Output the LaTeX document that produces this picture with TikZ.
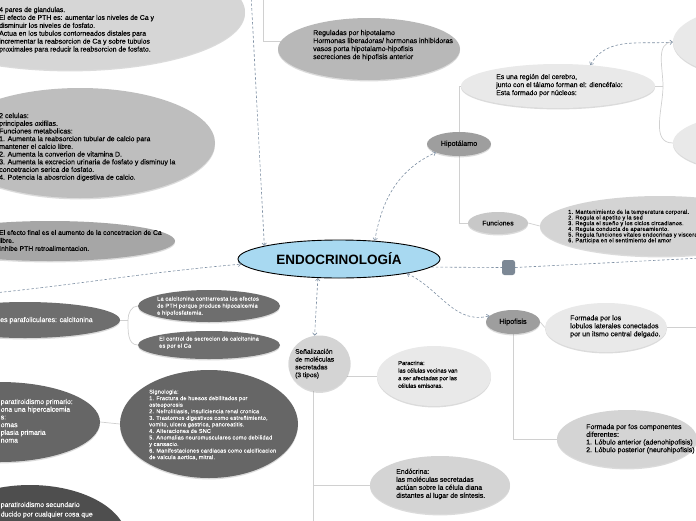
\documentclass[tikz,border=0pt]{standalone}
\usepackage{fontspec}
\setmainfont{Liberation Sans}[UprightFeatures={FakeBold=0.3}]
\newfontfamily\tightfont{Liberation Sans}[LetterSpace=4, UprightFeatures={FakeBold=0.2}]
\usetikzlibrary{arrows.meta, positioning, shapes.geometric, shadows, backgrounds}
\definecolor{relblue}{RGB}{126,144,164}
\definecolor{branchgray}{RGB}{208,208,208}
\definecolor{skyfill}{RGB}{168,217,241}
\definecolor{slate}{RGB}{124,136,149}
\definecolor{grayA}{RGB}{214,214,214}
\definecolor{grayB}{RGB}{190,190,190}
\definecolor{grayC}{RGB}{166,166,166}
\definecolor{grayReg}{RGB}{184,184,184}
\definecolor{grayPale}{RGB}{233,233,233}
\definecolor{grayHip}{RGB}{158,158,158}
\definecolor{grayFun}{RGB}{200,200,200}
\definecolor{grayMid}{RGB}{212,212,212}
\definecolor{darkA}{RGB}{110,110,110}
\definecolor{darkB}{RGB}{102,102,102}
\definecolor{darkC}{RGB}{78,78,78}
\newcommand{\fsz}[2]{\fontsize{#1}{#2}\selectfont}

\begin{document}
\begin{tikzpicture}[x=1pt, y=-1pt, >={Straight Barb[length=2.4pt,width=4.4pt]},
  bubble/.style={ellipse, inner sep=0pt, drop shadow={shadow xshift=0pt, shadow yshift=-1.4pt, opacity=0.28}},
  lbl/.style={anchor=north west, inner sep=0pt, align=left},
  branch/.style={draw=branchgray, line width=0.7pt},
  rel/.style={draw=relblue, line width=0.6pt, dash pattern=on 2.6pt off 2pt, <->}]

\useasboundingbox (0,0) rectangle (696,520);

% left column (parathyroid)
\node[bubble, fill=grayA, minimum width=350pt, minimum height=116pt] (glandulas) at (70,12) {};
\node[lbl, font=\fsz{6.9}{7.9}] (glandulasT) at (-1,6.8) {4 pares de glandulas.\\El efecto de PTH es: aumentar los niveles de Ca y\\disminuir los niveles de fosfato.\\Actua en los tubulos contorneados distales para\\incrementar la reabsorcion de Ca y sobre tubulos\\proximales para reducir la reabsorcion de fosfato.};
\node[bubble, fill=grayB, minimum width=270pt, minimum height=110pt] (celulas) at (80,143) {};
\node[lbl, font=\fsz{7}{7.7}] (celulasT) at (-1,112.8) {2 celulas:\\principales oxifilas.\\Funciones metabolicas:\\1. Aumenta la reabsorcion tubular de calcio para\\mantener el calcio libre.\\2. Aumenta la converion de vitamina D.\\3. Aumenta la excrecion urinaria de fosfato y disminuy la\\concetracion serica de fosfato.\\4. Potencia la abosrcion digestiva de calcio.};
\node[bubble, fill=grayC, minimum width=250pt, minimum height=40pt] (efectofinal) at (50,241) {};
\node[lbl, font=\fsz{6.8}{8}] (efectofinalT) at (-1,229.8) {El efecto final es el aumento de la concetracion de Ca\\libre.\\Inhibe PTH retroalimentacion.};

% calcitonina
\node[bubble, fill=darkA, minimum width=190pt, minimum height=36pt] (parafol) at (25,320) {};
\node[lbl, font=\fsz{7}{8}, text=white] (parafolT) at (0,316.8) {es parafoliculares: calcitonina};
\node[bubble, fill=darkA, minimum width=142pt, minimum height=32pt] (calcit1) at (209,306) {};
\node[lbl, font=\tightfont\fsz{5.6}{7}, text=white] (calcit1T) at (157,296.4) {La calcitonina contrarresta los efectos\\de PTH porque produce hipocalcemia\\e hipofosfatemia.};
\node[bubble, fill=darkA, minimum width=142pt, minimum height=28pt] (calcit2) at (209,345) {};
\node[lbl, font=\tightfont\fsz{5.6}{7}, text=white] (calcit2T) at (159,336.4) {El control de secrecion de calcitonina\\es por el Ca};

% hiperparatiroidismo
\node[bubble, fill=darkB, minimum width=200pt, minimum height=80pt] (primario) at (0,422) {};
\node[lbl, font=\fsz{6.9}{7.7}, text=white] (primarioT) at (0.5,398.8) {paratiroidismo primario:\\ona una hipercalcemia\\s:\\omas\\plasia primaria\\noma};
\node[bubble, fill=darkB, minimum width=178pt, minimum height=108pt] (signos) at (209,424) {};
\node[lbl, font=\tightfont\fsz{5.5}{6.55}, text=white] (signosT) at (149,389.4) {Signologia:\\1. Fractura de huesos debilitados por\\osteoporosis\\2. Nefrolitiasis, insuficiencia renal cronica\\3. Trastornos digestivos como estreñimiento,\\vomito, ulcera gastrica, pancreatitis.\\4. Alteraciones de SNC\\5. Anomalias neuromusculares como debilidad\\y cansacio.\\6. Manifestaciones cardiacas como calcificacion\\de valcula aortica, mitral.};
\node[bubble, fill=darkC, minimum width=194pt, minimum height=110pt] (secundario) at (30,540) {};
\node[lbl, font=\fsz{6.9}{9.5}, text=white] (secundarioT) at (0.5,501.8) {paratiroidismo secundario\\ducido por cualquier cosa que};

% hipotalamo
\node[bubble, fill=grayReg, minimum width=182pt, minimum height=62pt] (reguladas) at (369,49) {};
\node[lbl, font=\fsz{7}{8}] (reguladasT) at (313,29.8) {Reguladas por hipotalamo\\Hormonas liberadoras/ hormonas inhibidoras\\vasos porta hipotalamo-hipofisis\\secreciones de hipofisis anterior};
\node[bubble, fill=grayPale, minimum width=194pt, minimum height=44pt] (region) at (558,86) {};
\node[lbl, font=\fsz{6.9}{8}] (regionT) at (496,73.8) {Es una región del cerebro,\\junto con el tálamo forman el: diencéfalo:\\Esta formado por núcleos:};
\node[bubble, fill=grayPale, minimum width=194pt, minimum height=76pt] (diencA) at (770,42) {};
\node[bubble, fill=grayPale, minimum width=194pt, minimum height=62pt] (diencB) at (770,143) {};
\node[bubble, fill=grayHip, minimum width=64pt, minimum height=24pt, font=\fsz{7.2}{8}] (hipot) at (459,144) {Hipotálamo};
\node[bubble, fill=grayFun, minimum width=60pt, minimum height=22pt, font=\fsz{6.8}{8}] (func) at (498,223) {Funciones};
\node[bubble, fill=grayMid, minimum width=240pt, minimum height=60pt] (mant) at (660,226) {};
\node[lbl, font=\tightfont\fsz{5.6}{5.7}] (mantT) at (568,209.5) {1. Mantenimiento de la temperatura corporal.\\2. Regula el apetito y la sed\\3. Regula el sueño y los ciclos circadianos.\\4. Regula conducta de apareamiento.\\5. Regula funciones vitales endocrinas y viscerales\\6. Participa en el sentimiento del amor};

% centro
\node[ellipse, draw=black, line width=0.9pt, fill=skyfill, minimum width=202pt, minimum height=38pt, inner sep=0pt, font=\bfseries\fsz{13.5}{15}] (endo) at (339,259) {ENDOCRINOLOGÍA};
\node[rectangle, rounded corners=2.5pt, fill=slate, minimum width=13pt, minimum height=15pt, inner sep=0pt] (sq) at (508.5,267.5) {};

% senalizacion
\node[bubble, fill=grayMid, minimum width=62pt, minimum height=56pt] (senal) at (319.5,363.5) {};
\node[lbl, font=\fsz{6.6}{7.8}] (senalT) at (295,348.7) {Señalización\\de moléculas\\secretadas\\(3 tipos)};
\node[bubble, fill=grayPale, minimum width=114pt, minimum height=60pt] (paracrina) at (434,376) {};
\node[lbl, font=\fsz{5.8}{7.6}] (paracrinaT) at (398,360.6) {Paracrina:\\las células vecinas van\\a ser afectadas por las\\células emisoras.};
\node[bubble, fill=grayMid, minimum width=140pt, minimum height=58pt] (endocrina) at (440,485) {};
\node[lbl, font=\fsz{6.9}{8}] (endocrinaT) at (396,468.5) {Endócrina:\\las moléculas secretadas\\actúan sobre la célula diana\\distantes al lugar de síntesis.};

% hipofisis
\node[bubble, fill=grayHip, minimum width=54pt, minimum height=24pt, font=\fsz{7.2}{8}] (hipof) at (513,322) {Hipofisis};
\node[bubble, fill=grayPale, minimum width=122pt, minimum height=49pt] (lobulos) at (606,327.5) {};
\node[lbl, font=\fsz{7}{8}] (lobulosT) at (570,315) {Formada por los\\lobulos laterales conectados\\por un itsmo central delgado.};
\node[bubble, fill=grayMid, minimum width=140pt, minimum height=58pt] (componentes) at (627,439) {};
\node[lbl, font=\fsz{7}{7.7}] (componentesT) at (586,423.8) {Formada por fos componentes\\diferentes:\\1. Lóbulo anterior (adenohipofisis)\\2. Lóbulo posterior (neurohipofisis)};

% free ends and junctions
\coordinate (topA) at (251,-6);
\coordinate (topB) at (263,-6);
\coordinate (leftA) at (-6,293);
\coordinate (rightA) at (702,258);
\coordinate (lobR) at (702,327.5);
\coordinate (rj) at (663,86);
\coordinate (cj) at (128,320);
\coordinate (sj) at (313,363);
\coordinate (sbot) at (313,526);

% relaciones
\draw[rel, <-] (endo.170) -- (topA);
\draw[rel] (endo.27) to[out=80, in=205] (hipot.200);
\draw[rel] (leftA) to[out=6, in=185] (endo.183);
\draw[rel] (endo.222) -- (senal.100);
\draw[rel] (endo.348) to[out=-25, in=195] (hipof.165);
\draw[rel, -] (endo.-5) -- (sq.west);
\draw[rel, -] (sq.east) -- (rightA);
\draw[rel] (region.33) to[out=60, in=185] (diencA.west);

% ramas
\begin{scope}[on background layer]
  \fill[white] (0,0) rectangle (696,520);
  \draw[branch] (topB) |- (reguladas.175);
  \draw[branch] (hipot) |- (region.west);
  \draw[branch] (hipot) |- (func.west);
  \draw[branch] (func.east) -- (mant.west);
  \draw[branch] (region.east) -- (rj);
  \draw[branch] (rj) to[out=90, in=180] (diencA.west);
  \draw[branch] (rj) to[out=-90, in=180] (diencB.west);
  \draw[branch] (parafol.east) -- (cj);
  \draw[branch] (cj) to[out=90, in=180] (calcit1.west);
  \draw[branch] (cj) to[out=-90, in=180] (calcit2.west);
  \draw[branch] (primario.east) -- (signos.west);
  \draw[branch] (sj) -- (sbot);
  \draw[branch] (sj |- paracrina.west) -- (paracrina.west);
  \draw[branch] (sj |- endocrina.west) -- (endocrina.west);
  \draw[branch] (hipof) |- (componentes.west);
  \draw[branch] (hipof.east) -- (lobulos.west);
  \draw[branch] (lobulos.east) -- (lobR);
\end{scope}
\end{tikzpicture}
\end{document}
